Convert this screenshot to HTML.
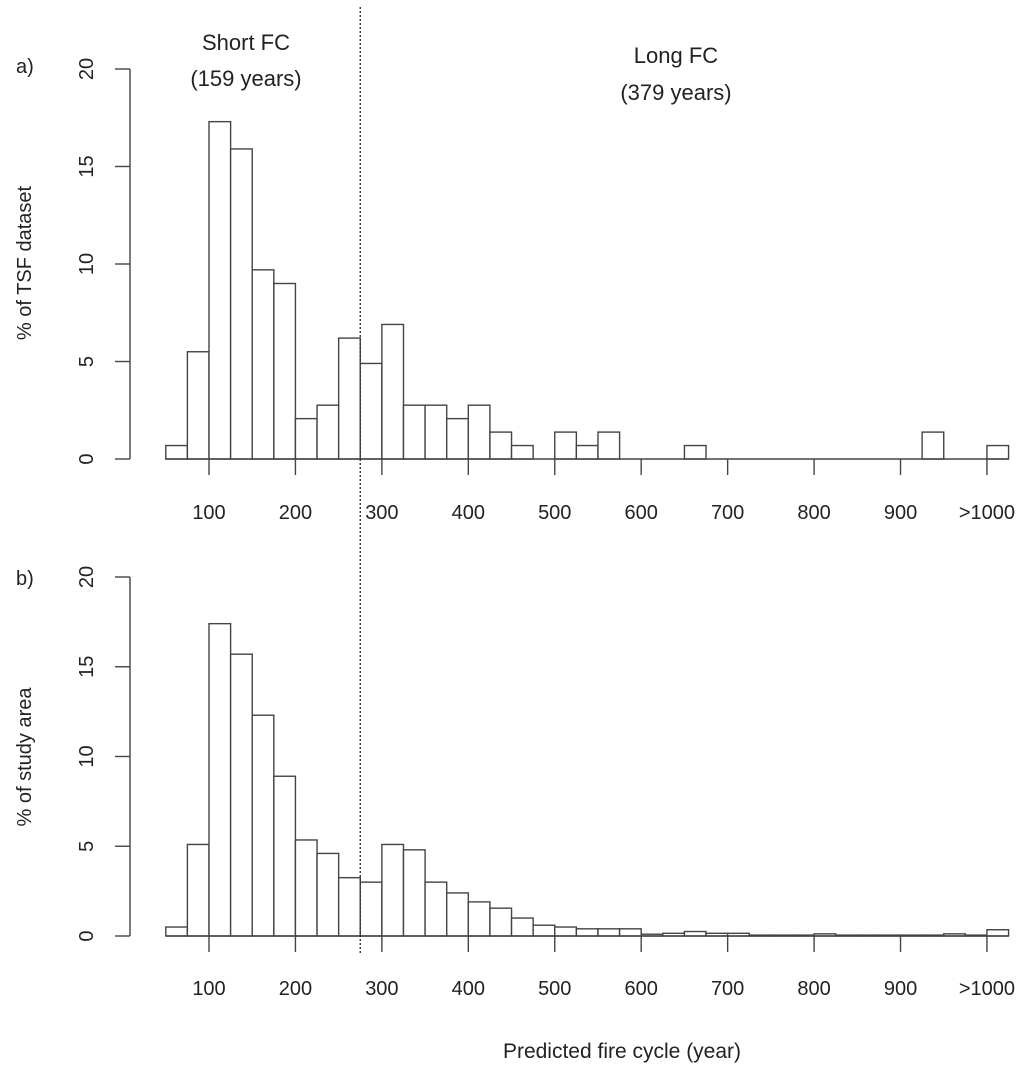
<!DOCTYPE html>
<html><head><meta charset="utf-8"><style>
html,body{margin:0;padding:0;background:#fff;}
svg{display:block;font-family:"Liberation Sans",Arial,sans-serif;}
</style></head><body>
<svg id="chart" width="1024" height="1072" viewBox="0 0 1024 1072" xmlns="http://www.w3.org/2000/svg">
<text x="16" y="73" font-size="20" fill="#222">a)</text>
<text x="16" y="585" font-size="20" fill="#222">b)</text>
<text x="246" y="50" font-size="22" fill="#222" text-anchor="middle">Short FC</text>
<text x="246" y="86" font-size="22" fill="#222" text-anchor="middle">(159 years)</text>
<text x="676" y="63" font-size="22" fill="#222" text-anchor="middle">Long FC</text>
<text x="676" y="100" font-size="22" fill="#222" text-anchor="middle">(379 years)</text>
<text transform="translate(31,263) rotate(-90)" font-size="20" fill="#222" text-anchor="middle">% of TSF dataset</text>
<text transform="translate(31,757) rotate(-90)" font-size="20" fill="#222" text-anchor="middle">% of study area</text>
<text x="622" y="1058" font-size="21" fill="#222" text-anchor="middle">Predicted fire cycle (year)</text>
</svg>
<script>
const binStarts = [50,75,100,125,150,175,200,225,250,275,300,325,350,375,400,425,450,475,500,525,550,575,600,625,650,675,700,725,750,775,800,825,850,875,900,925,950,975,1000];
const tsfValues = [0.69,5.5,17.3,15.9,9.7,9.0,2.07,2.76,6.2,4.9,6.9,2.76,2.76,2.07,2.76,1.38,0.69,0,1.38,0.69,1.38,0,0,0,0.69,0,0,0,0,0,0,0,0,0,0,1.38,0,0,0.69];
const areaValues = [0.5,5.1,17.4,15.7,12.3,8.9,5.35,4.6,3.25,3.0,5.1,4.8,3.0,2.4,1.9,1.55,1.0,0.6,0.5,0.4,0.4,0.4,0.1,0.15,0.25,0.15,0.15,0.05,0.05,0.05,0.12,0.05,0.05,0.05,0.05,0.05,0.12,0.05,0.35];
const xTicks = [100,200,300,400,500,600,700,800,900,1000];
const xTickLabels = ["100","200","300","400","500","600","700","800","900",">1000"];
const yTicks = [0,5,10,15,20];
const binWidth = 25;
const dividerValue = 275;

const svg = document.getElementById('chart');
const NS = 'http://www.w3.org/2000/svg';
function xs(v){ return 209 + (v-100)*0.8644; }
function mk(tag, attrs, parent){
  const e = document.createElementNS(NS, tag);
  for (const k in attrs) e.setAttribute(k, attrs[k]);
  (parent||svg).appendChild(e);
  return e;
}
const panels = [
  {id:'a', values: tsfValues, y0: 459, y20: 69, labelY: 519},
  {id:'b', values: areaValues, y0: 936, y20: 577, labelY: 995}
];
panels.forEach(p => {
  const ys = v => p.y0 - (p.y0 - p.y20) * v / 20;
  const g = mk('g', {});
  
  
  const ya = mk('line', {x1:130, x2:130, y1:ys(20), y2:ys(0), stroke:'#444', 'stroke-width':1.4}, g);
  
  
  yTicks.forEach(t => {
    const tl = mk('line', {x1:115, x2:130, y1:ys(t), y2:ys(t), stroke:'#444', 'stroke-width':1.4}, g);
    
    
    const tx = mk('text', {transform:'translate(93,' + ys(t) + ') rotate(-90)', 'font-size':20, fill:'#222', 'text-anchor':'middle'}, g);
    tx.textContent = t;
    
    
  });
  binStarts.forEach((b, i) => {
    const v = p.values[i];
    const r = mk('rect', {x:xs(b), y:ys(v), width:xs(b+binWidth)-xs(b), height:Math.max(ys(0)-ys(v),0), fill:'#fff', stroke:'#444', 'stroke-width':1.4}, g);
    
    
  });
  const base = mk('line', {x1:xs(50), x2:xs(1025), y1:ys(0), y2:ys(0), stroke:'#444', 'stroke-width':1.4}, g);
  
  
  xTicks.forEach((t, i) => {
    const tl = mk('line', {x1:xs(t), x2:xs(t), y1:ys(0), y2:ys(0)+16, stroke:'#444', 'stroke-width':1.4}, g);
    
    
    const tx = mk('text', {x:xs(t), y:p.labelY, 'font-size':20, fill:'#222', 'text-anchor':'middle'}, g);
    tx.textContent = xTickLabels[i];
    
    
  });
});
const dv = mk('line', {x1:xs(dividerValue), x2:xs(dividerValue), y1:7, y2:955, stroke:'#333', 'stroke-width':1.4, 'stroke-dasharray':'2,2'});


</script>
</body></html>
